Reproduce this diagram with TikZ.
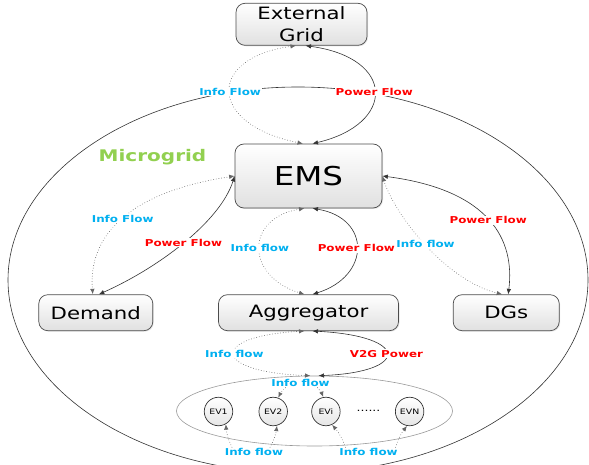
\documentclass[tikz,border=0pt]{standalone}
\usepackage{fontspec}
\setmainfont{DejaVu Sans}[FakeStretch=1.25]
\usetikzlibrary{positioning,arrows.meta,shapes.geometric,shadows}
\definecolor{infoblue}{RGB}{0,176,240}
\definecolor{powerred}{RGB}{255,0,0}
\definecolor{mgreen}{RGB}{146,208,80}

\begin{document}
\begin{tikzpicture}[x=1pt,y=-1pt,>={Latex[length=5.5pt,width=4.5pt]},
    box/.style={draw=black!70,line width=0.7pt,rounded corners=9pt,top color=white,bottom color=black!12,
      align=center,inner sep=0pt,font=\fontsize{17}{22}\selectfont,
      drop shadow={opacity=0.2,shadow xshift=1pt,shadow yshift=-1pt}},
    evnode/.style={circle,draw=black!80,line width=0.7pt,top color=white,bottom color=black!10,minimum size=28.5pt,
      inner sep=0pt,font=\fontsize{7.5}{9}\selectfont},
    lbl/.style={fill=white,inner sep=0.8pt,font=\fontsize{9.5}{11}\selectfont\bfseries},
    info/.style={draw=black!60,line width=0.8pt,dash pattern=on 0.1pt off 2.6pt,line cap=round},
    power/.style={draw=black!80,line width=0.6pt}]
    \path[use as bounding box,clip] (0,0) rectangle (589,465);
    \draw[black!80,line width=0.6pt] (298,280) ellipse [x radius=290,y radius=193];

    \node[box,minimum width=147pt,minimum height=64pt,font=\fontsize{26}{30}\selectfont] (e) at (308.5,176) {EMS};
    \node[box,minimum width=131pt,minimum height=42pt,above=98pt of e,xshift=-7pt] (g) {External\\Grid};
    \node[box,minimum width=180pt,minimum height=36pt,below=86pt of e] (ag) {Aggregator};
    \node[box,minimum width=114pt,minimum height=36pt,left=65pt of ag] (dm) {Demand};
    \node[box,minimum width=106pt,minimum height=36pt,right=54pt of ag] (dg) {DGs};
    \node[font=\fontsize{16}{18}\selectfont\bfseries,text=mgreen] (mg) at (152.5,157) {Microgrid};

    \node[draw=black!40,line width=0.6pt,ellipse,minimum width=276pt,minimum height=70pt,inner sep=0pt] (evs) at (314.5,411) {};
    \node[evnode] (ev1) at (218.5,411.5) {EV1};
    \node[evnode,right=25.5pt of ev1] (ev2) {EV2};
    \node[evnode,right=23.5pt of ev2] (evi) {EVi};
    \node[evnode,right=54.5pt of evi] (evn) {EVN};
    \node[font=\fontsize{10}{10}\selectfont] (dots) at (368.5,411) {......};

    \draw[info,<->] ([xshift=-5.5pt]g.south) .. controls (207,58) and (207,124) .. ([xshift=-5.5pt]e.north)
      node[lbl,text=infoblue,pos=0.5] {Info Flow};
    \draw[power,<->] ([xshift=4pt]g.south) .. controls (396,58) and (396,124) .. ([xshift=4pt]e.north)
      node[lbl,text=powerred,pos=0.5] {Power Flow};
    \draw[info,<->] (e.west) .. controls (130,192) and (88,235) .. ([xshift=-3pt]dm.north)
      node[lbl,text=infoblue,pos=0.5] {Info Flow};
    \draw[power,<->] (e.west) .. controls (220,222) and (158,268) .. ([xshift=3pt]dm.north)
      node[lbl,text=powerred,pos=0.5] {Power Flow};
    \draw[info,<->] ([xshift=-4pt]e.south) .. controls (245,218) and (245,276) .. ([xshift=-4pt]ag.north)
      node[lbl,text=infoblue,pos=0.5] {Info flow};
    \draw[power,<->] ([xshift=4pt]e.south) .. controls (371,218) and (371,276) .. ([xshift=4pt]ag.north)
      node[lbl,text=powerred,pos=0.5] {Power Flow};
    \draw[info,<->] (e.east) .. controls (395,215) and (445,280) .. ([xshift=-4pt]dg.north)
      node[lbl,text=infoblue,pos=0.5] {Info flow};
    \draw[power,<->] (e.east) .. controls (490,190) and (515,240) .. ([xshift=2pt]dg.north)
      node[lbl,text=powerred,pos=0.5] {Power Flow};
    \draw[info,<->] ([xshift=-4pt]ag.south) .. controls (210,336) and (210,372) .. ([xshift=-4pt]evs.north)
      node[lbl,text=infoblue,pos=0.5] {Info flow};
    \draw[power,<->] ([xshift=4pt]ag.south) .. controls (410,336) and (410,372) .. ([xshift=4pt]evs.north)
      node[lbl,text=powerred,pos=0.5] {V2G Power};

    \node[lbl,text=infoblue] (ie) at (300.5,383) {Info flow};
    \node[lbl,text=infoblue] (ibl) at (254,452) {Info flow};
    \node[lbl,text=infoblue] (ibr) at (368.5,452) {Info flow};
    \draw[info,->] ([xshift=-15pt]ie.south) to[bend right=10] (ev2.70);
    \draw[info,->] ([xshift=17pt]ie.south) to[bend left=10] (evi.100);
    \draw[info,->] ([xshift=-22pt]ibl.north) to[bend left=10] (ev1.-60);
    \draw[info,->] ([xshift=16pt]ibl.north) to[bend right=10] (ev2.-75);
    \draw[info,->] ([xshift=-23pt]ibr.north) to[bend right=10] (evi.-65);
    \draw[info,->] ([xshift=27pt]ibr.north) to[bend left=10] (evn.-100);
\end{tikzpicture}
\end{document}
